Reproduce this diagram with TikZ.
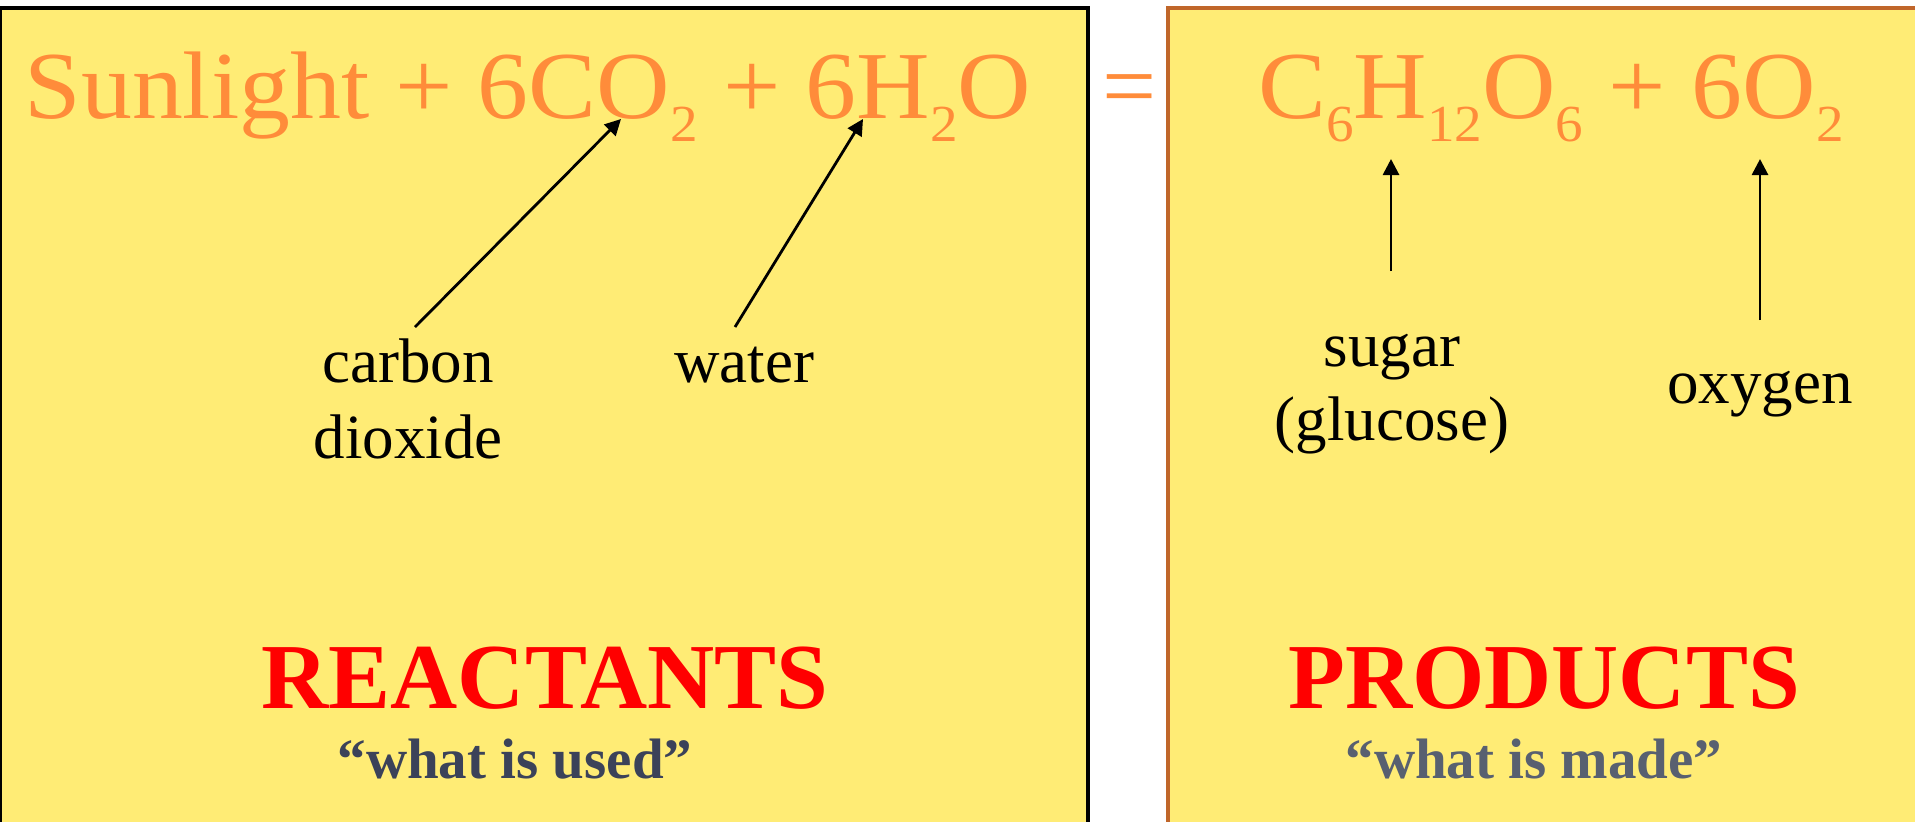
\documentclass[tikz,border=0pt]{standalone}
\usepackage{fontspec}
\setmainfont{Liberation Serif}
\usetikzlibrary{arrows.meta}
\definecolor{boxfill}{RGB}{255,236,117}
\definecolor{eqorange}{RGB}{255,140,58}
\definecolor{boxbrown}{RGB}{192,102,42}
\definecolor{headred}{RGB}{255,0,0}
\definecolor{usednavy}{RGB}{59,66,89}
\definecolor{madegray}{RGB}{88,96,112}
\newcommand{\chemsub}[1]{\raisebox{-11.5pt}{\fontsize{26}{26}\selectfont #1}}
\tikzset{
  panelbox/.style={line width=2pt, fill=boxfill},
  eqtext/.style={inner sep=0pt, anchor=base, text=eqorange, font=\fontsize{48}{58}\selectfont},
  labeltext/.style={inner sep=0pt, anchor=base, text=black, font=\fontsize{31.5}{38}\selectfont},
  headtext/.style={inner sep=0pt, anchor=base, text=headred, font=\fontsize{46.5}{56}\selectfont\bfseries},
  subtext/.style={inner sep=0pt, anchor=base, font=\fontsize{28.5}{34}\selectfont\bfseries},
  pointer/.style={line width=1.4pt, -{Triangle[length=8pt,width=8pt]}}
}
\begin{document}
\begin{tikzpicture}[x=0.5pt,y=-0.5pt]
\useasboundingbox (0,0) rectangle (1915,821);
\clip (0,0) rectangle (1915,821);
\fill[white] (0,0) rectangle (1915,821);
% panels
\path[panelbox, draw=black] (0,8) rectangle (1088,840);
\path[panelbox, draw=boxbrown] (1168,8) rectangle (1940,840);
% equation
\node[eqtext, xscale=1.06] (lhs) at (528,118) {Sunlight + 6CO\chemsub{2} + 6H\chemsub{2}O};
\node[eqtext] (eq) at (1130,118) {=};
\node[eqtext, xscale=1.06] (rhs) at (1551,118) {C\chemsub{6}H\chemsub{12}O\chemsub{6} + 6O\chemsub{2}};
% labels
\node[labeltext] (carbon) at (408,382) {carbon};
\node[labeltext] (dioxide) at (408,458) {dioxide};
\node[labeltext] (water) at (744,382) {water};
\node[labeltext] (sugar) at (1392,366) {sugar};
\node[labeltext] (glucose) at (1392,440) {(glucose)};
\node[labeltext] (oxygen) at (1760,403) {oxygen};
% arrow ends
\coordinate (co2start) at (415,327);
\coordinate (co2tip) at (621,119);
\coordinate (h2ostart) at (735,327);
\coordinate (h2otip) at (863,119);
\coordinate (sugarstart) at (1391,271);
\coordinate (sugartip) at (1391,159);
\coordinate (o2start) at (1760,320);
\coordinate (o2tip) at (1760,159);
\draw[pointer] (co2start) -- (co2tip);
\draw[pointer] (h2ostart) -- (h2otip);
\draw[pointer] (sugarstart) -- (sugartip);
\draw[pointer] (o2start) -- (o2tip);
% headings
\node[headtext] (react) at (545,708) {REACTANTS};
\node[headtext] (prod) at (1544,708) {PRODUCTS};
\node[subtext, text=usednavy] (used) at (515,778) {“what is used”};
\node[subtext, text=madegray] (made) at (1534,778) {“what is made”};
\end{tikzpicture}
\end{document}
